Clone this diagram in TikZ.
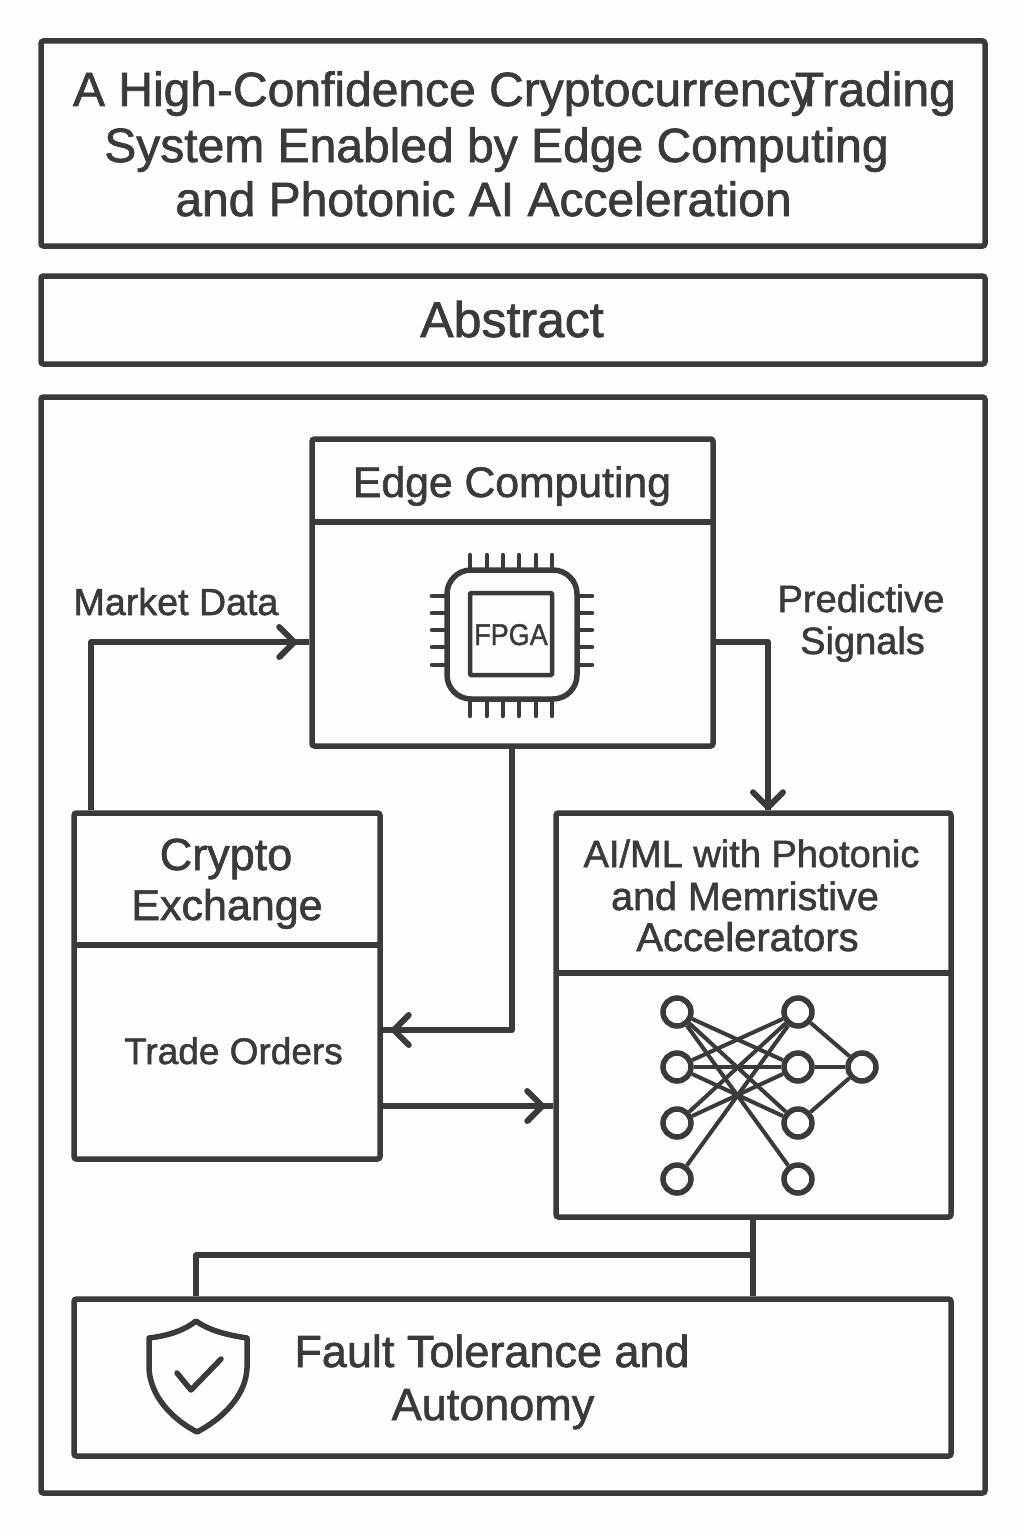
\documentclass[tikz,border=0pt]{standalone}
\usepackage{fontspec}
\setmainfont{Liberation Sans}[FakeBold=1.4]
\usetikzlibrary{arrows.meta,calc}
\definecolor{ink}{HTML}{3A3A3A}
\definecolor{paper}{HTML}{FDFDFD}
\newcommand{\fs}[1]{\fontsize{#1}{#1}\selectfont}
\tikzset{
  x=1pt,y=-1pt,
  framebox/.style={draw=ink,line width=5.5pt,rounded corners=2.5pt,inner sep=0pt,fill=none},
  rule/.style={draw=ink,line width=5.5pt,shorten >=2pt,shorten <=2pt},
  conn/.style={draw=ink,line width=5.5pt,line join=round},
  arrowconn/.style={conn,-{Straight Barb[length=15pt,width=30pt,line width=6pt,round]}},
  label/.style={text=ink,inner sep=0pt,anchor=base},
  neuron/.style={circle,draw=ink,line width=5.5pt,fill=paper,minimum size=28pt,inner sep=0pt},
  synapse/.style={draw=ink,line width=4pt},
  pin/.style={draw=ink,line width=4.5pt,line cap=round},
}
\begin{document}
\begin{tikzpicture}
\useasboundingbox (0,0) rectangle (1024,1536);
\fill[paper] (0,0) rectangle (1024,1536);
% outer frames
\node[framebox,minimum width=944pt,minimum height=205pt] (titlebox) at (513,143.5) {};
\node[framebox,minimum width=944pt,minimum height=88pt] (abstractbox) at (513,320) {};
\node[framebox,minimum width=944pt,minimum height=1096pt] (mainbox) at (513,945) {};
\node[label] (t1) at (514.5,106) {\fs{48}A High-Confidence Cryptocurrency\kern-20pt\ \kern-13pt Trading};
\node[label] (t2) at (496.5,162) {\fs{48}System Enabled by Edge Computing};
\node[label] (t3) at (483.5,216) {\fs{48}and Photonic AI Acceleration};
\node[label] (abs) at (512,337) {\fs{50}Abstract};
% edge computing
\node[framebox,minimum width=401pt,minimum height=307pt] (edge) at (512.5,592.5) {};
\draw[rule] (edge.west |- 0,522) -- (edge.east |- 0,522);
\node[label] (edgelab) at (512,497) {\fs{42.7}Edge Computing};
% chip
\node[draw=ink,line width=5.5pt,rounded corners=24pt,minimum width=130pt,minimum height=129pt,inner sep=0pt] (chip) at (512,634.5) {};
\node[draw=ink,line width=4.5pt,rounded corners=1pt,minimum width=82pt,minimum height=82pt,inner sep=0pt] (die) at (511,634) {};
\node[label] (fpga) at (511,645) {\scalebox{.9}[1]{\fs{30}FPGA}};
\foreach \px in {470,487,503,519,536,552}{
  \draw[pin] (\px,555) -- (\px,570);
  \draw[pin] (\px,699) -- (\px,716);
}
\foreach \py in {596,613,630,647,665}{
  \draw[pin] (432,\py) -- (447,\py);
  \draw[pin] (577,\py) -- (592,\py);
}
% crypto exchange
\node[framebox,minimum width=306pt,minimum height=346pt] (crypto) at (227,986) {};
\draw[rule] (crypto.west |- 0,945) -- (crypto.east |- 0,945);
\node[label] (c1) at (226,870) {\fs{45}Crypto};
\node[label] (c2) at (227,920) {\fs{43}Exchange};
\node[label] (orders) at (233.5,1064) {\fs{37}Trade Orders};
% ai
\node[framebox,minimum width=395pt,minimum height=404pt] (ai) at (753.5,1015) {};
\draw[rule] (ai.west |- 0,973) -- (ai.east |- 0,973);
\node[label] (a1) at (751.5,867) {\fs{38}AI/ML with Photonic};
\node[label] (a2) at (745,910) {\fs{39.5}and Memristive};
\node[label] (a3) at (747.5,951) {\fs{40}Accelerators};
% network
\foreach \nn/\nx/\ny in {l1/677/1012,l2/677/1067,l3/677/1123,l4/677/1179,m1/798/1012,m2/798/1067,m3/798/1123,m4/798/1179,r/862/1067}{
  \node[neuron] (\nn) at (\nx,\ny) {};
}
\foreach \aa/\bb in {l1/m2,l1/m3,l1/m4,l2/m1,l2/m2,l2/m3,l3/m1,l3/m2,l4/m1,m1/r,m2/r,m3/r}{
  \draw[synapse] (\aa) -- (\bb);
}
% fault
\node[framebox,minimum width=877pt,minimum height=157pt] (fault) at (512.5,1377.5) {};
\node[label] (f1) at (492,1367) {\fs{45}Fault Tolerance and};
\node[label] (f2) at (493,1420) {\fs{45}Autonomy};
% shield
\draw[draw=ink,line width=5.5pt,line join=round] (196,1321) .. controls (182,1332) and (165,1336) .. (149,1338) -- (149,1368) .. controls (150,1396) and (172,1419) .. (197,1432) .. controls (222,1419) and (246,1396) .. (247,1368) -- (247,1338) .. controls (228,1335) and (210,1331) .. cycle;
\draw[draw=ink,line width=5.5pt,line join=round,line cap=round] (177,1373) -- (191,1390) -- (221,1359);
% connector labels
\node[label] (mdata) at (176,615) {\fs{37.6}Market Data};
\node[label] (ps1) at (861,612) {\fs{38}Predictive};
\node[label] (ps2) at (862.5,654) {\fs{38}Signals};
% connectors
\coordinate (mk) at (91,642);
\coordinate (ps) at (768,642);
\coordinate (to) at (512,1030);
\coordinate (co) at (556,1106);
\coordinate (fb) at (753,1255);
\coordinate (fc) at (196,1255);
\draw[conn] (crypto.north -| mk) -- (mk) -- (edge.west |- mk);
\draw[arrowconn,shorten >=12pt] (mk) -- (edge.west |- mk);
\draw[conn] (edge.east |- ps) -- (ps) -- (ai.north -| ps);
\draw[arrowconn] (ps) -- (ai.north -| ps);
\draw[conn] (edge.south -| to) -- (to) -- (crypto.east |- to);
\draw[arrowconn,shorten >=8pt] (to) -- (crypto.east |- to);
\draw[conn] (crypto.east |- co) -- (ai.west |- co);
\draw[arrowconn,shorten >=8pt] (crypto.east |- co) -- (ai.west |- co);
\draw[conn] (ai.south -| fb) -- (fault.north -| fb);
\draw[conn] (fb) -- (fc) -- (fault.north -| fc);
\end{tikzpicture}
\end{document}
